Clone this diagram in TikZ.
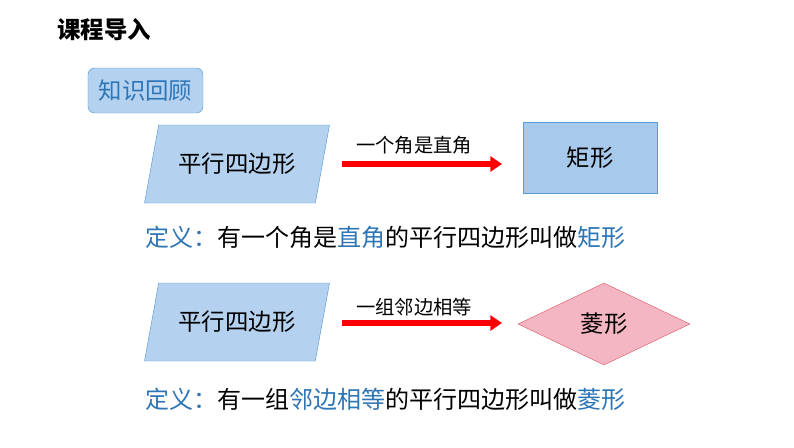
\documentclass[tikz,border=0pt]{standalone}
\usepackage{fontspec}
\setmainfont{Noto Sans CJK SC}
\usetikzlibrary{shapes.geometric}
\definecolor{kblue}{HTML}{2E75B6}
\definecolor{kfill}{HTML}{B4D2F0}
\definecolor{kedge}{HTML}{5B9BD5}
\definecolor{kpink}{HTML}{F4B6C2}
\definecolor{kred}{HTML}{E06070}
\tikzset{
  para/.style={trapezium, trapezium left angle=69, trapezium right angle=111,
    trapezium stretches=true, minimum width=5.55cm, minimum height=2.34cm,
    fill=kfill, draw=kedge, font=\fontsize{20}{24}\selectfont},
  redarrow/.style={-{Triangle[length=0.35cm,width=0.45cm]}, red, line width=0.18cm},
  deftext/.style={anchor=west, inner sep=0pt, font=\fontsize{20.5}{24}\selectfont},
  arrowlabel/.style={font=\fontsize{16.5}{20}\selectfont}
}
\usetikzlibrary{arrows.meta}
\begin{document}
\begin{tikzpicture}[x=0.03cm,y=-0.03cm]
  \useasboundingbox[fill=white] (0,0) rectangle (794,447);
  % title
  \node[anchor=west, inner sep=0pt, font=\bfseries\fontsize{20}{24}\selectfont] (title) at (57,30) {课程导入};
  \node[draw=kedge, fill=kfill, rounded corners=0.2cm, text=kblue, minimum width=3.45cm,
    minimum height=1.35cm, font=\fontsize{20}{24}\selectfont] (review) at (145.5,90.5) {知识回顾};

  % rectangle row
  \node[para] (p1) at (237,164) {平行四边形};
  \node[draw=kedge, fill=kfill!85!kedge, minimum width=4.02cm, minimum height=2.13cm,
    font=\fontsize{20}{24}\selectfont] (rect) at (590,157.5) {矩形};
  \coordinate (a1s) at (342,164);
  \coordinate (a1e) at (502,164);
  \draw[redarrow] (a1s) -- (a1e);
  \node[arrowlabel] (l1) at (414,145) {一个角是直角};
  \node[deftext] (d1) at (145,237) {\textcolor{kblue}{定义：}有一个角是\textcolor{kblue}{直角}的平行四边形叫做\textcolor{kblue}{矩形}};

  % rhombus row
  \node[para] (p2) at (237,322) {平行四边形};
  \node[diamond, draw=kred, fill=kpink, minimum width=5.16cm, minimum height=2.46cm,
    inner sep=0pt, font=\fontsize{20}{24}\selectfont] (rh) at (604,324) {菱形};
  \coordinate (a2s) at (342,323);
  \coordinate (a2e) at (502,323);
  \draw[redarrow] (a2s) -- (a2e);
  \node[arrowlabel] (l2) at (414,307) {一组邻边相等};
  \node[deftext] (d2) at (145,399) {\textcolor{kblue}{定义：}有一组\textcolor{kblue}{邻边相等}的平行四边形叫做\textcolor{kblue}{菱形}};
\end{tikzpicture}
\end{document}
